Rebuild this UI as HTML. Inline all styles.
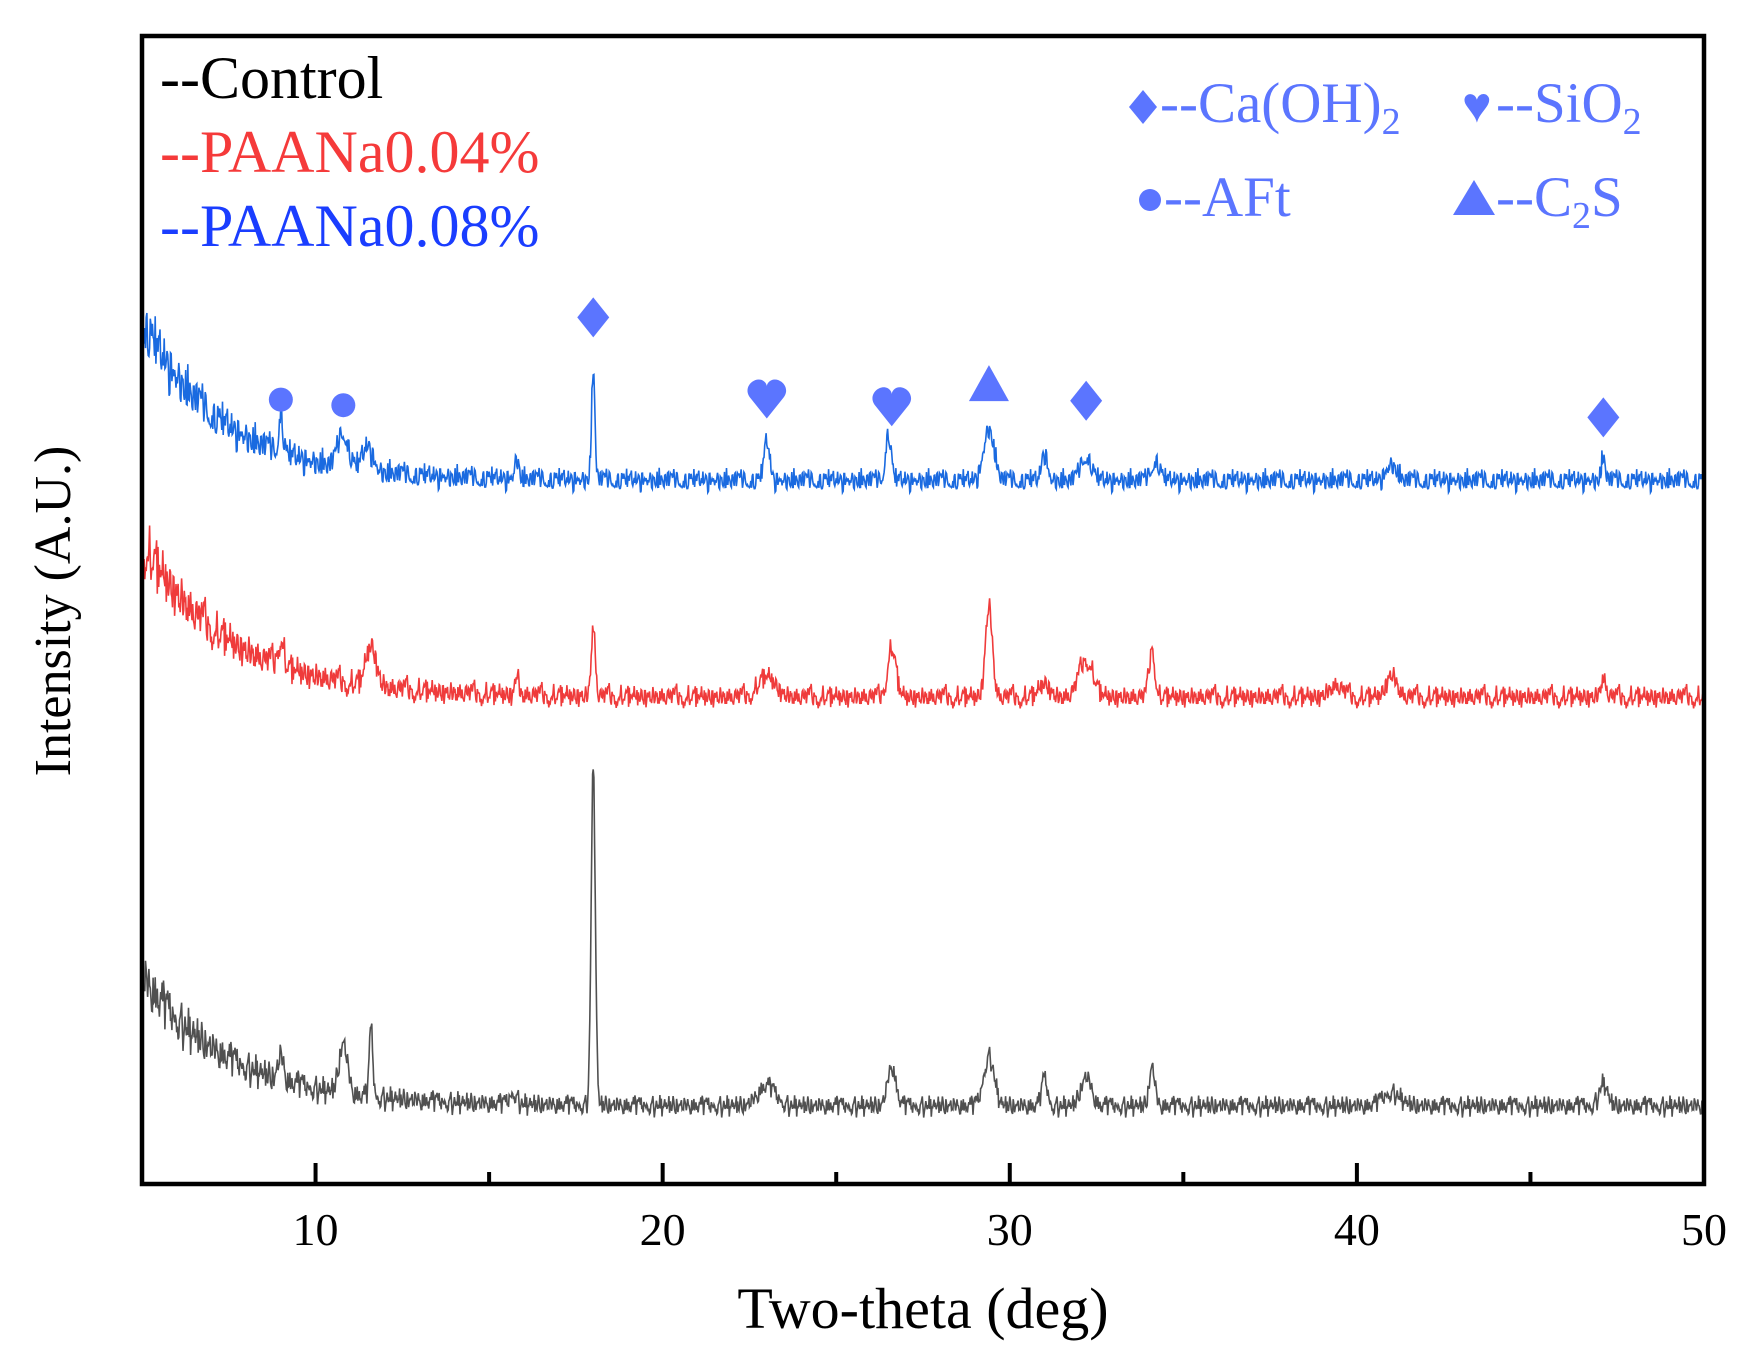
<!DOCTYPE html>
<html><head><meta charset="utf-8"><style>
html,body{margin:0;padding:0;background:#fff;}
svg{display:block;font-family:"Liberation Serif",serif;}
</style></head><body>
<svg id="chart" width="1739" height="1350" viewBox="0 0 1739 1350" xmlns="http://www.w3.org/2000/svg">
<g id="series"></g>
<g id="markers"></g>
<rect x="142" y="36" width="1562" height="1148" fill="none" stroke="#000" stroke-width="4.5"/>
<g id="ticks"></g>
<text x="923" y="1328" font-size="58" text-anchor="middle">Two-theta (deg)</text>
<text transform="translate(70,611) rotate(-90)" font-size="52" text-anchor="middle">Intensity (A.U.)</text>
<g font-size="60">
<text x="160" y="98" fill="#000">--Control</text>
<text x="160" y="172" fill="#f53a3a">--PAANa0.04%</text>
<text x="160" y="246" fill="#1a3dff">--PAANa0.08%</text>
</g>
<g font-size="57" fill="#5b75ff">
<path d="M1143,90 L1157,107 L1143,124 L1129,107 Z"/>
<text x="1160" y="122">--Ca(OH)<tspan font-size="38" dy="12">2</tspan></text>
<text x="1462" y="122" font-size="50">♥</text>
<text x="1496" y="122">--SiO<tspan font-size="38" dy="12">2</tspan></text>
<circle cx="1150" cy="200" r="11"/>
<text x="1164" y="216">--AFt</text>
<path d="M1474,180 L1495,215 L1453,215 Z"/>
<text x="1496" y="216">--C<tspan font-size="38" dy="12">2</tspan><tspan dy="-12">S</tspan></text>
</g>
</svg>
<script>
// axis domain
const xMin = 5, xMax = 50;
const xTicks = [10, 20, 30, 40, 50];
const xMinorTicks = [15, 25, 35, 45];
// baselines: [flat level, decay amplitude, decay constant]
const controlBase = [70, 116, 2.5];
const red004Base = [438, 138, 2.5];
const blue008Base = [633, 143, 2.3];
// peaks: [position (deg), height, width]
const controlPeaks = [[9.0,22,0.08],[10.8,45,0.12],[11.6,62,0.05],[15.7,10,0.1],[18.0,305,0.06],[23.0,18,0.25],[26.6,35,0.12],[29.4,45,0.15],[31.0,25,0.08],[32.2,26,0.15],[34.1,35,0.08],[41.0,12,0.25],[47.1,20,0.12]];
const red004Peaks = [[9.0,26,0.08],[11.6,36,0.15],[15.8,20,0.05],[18.0,62,0.06],[23.0,18,0.25],[26.6,44,0.12],[29.4,82,0.1],[31.0,12,0.15],[32.2,34,0.2],[34.1,44,0.08],[39.4,10,0.2],[41.0,20,0.15],[47.1,16,0.08]];
const blue008Peaks = [[9.0,38,0.06],[10.8,32,0.15],[11.5,22,0.15],[15.8,18,0.06],[18.0,98,0.05],[23.0,35,0.08],[26.5,42,0.08],[29.4,46,0.15],[31.0,25,0.08],[32.2,22,0.15],[34.2,18,0.12],[41.0,14,0.15],[47.1,20,0.06]];
// measured noise texture (intensity units, normalized)
const noiseTexture = [0.3,-0.8,0.9,-0.2,0.6,-1,0.1,0.7,-0.5,0.4,-0.9,0.8,-0.1,0.2,-0.6,1,-0.4,0.5,-0.7,0.0,0.9,-0.3,-0.8,0.6,0.2,-1,0.4,0.7,-0.2,-0.6,0.8,0.1,-0.9,0.5,-0.4,0.3,0.9,-0.7,0.0,-0.3,0.6,-0.8,1,-0.1,0.4,-0.5,0.2,0.8,-1,0.5,-0.2,0.7,-0.6,0.1,-0.4,0.9,-0.9,0.3,0.6,-0.7,0.2,-0.1,0.8,-0.5,-0.3,1,-0.8,0.4,0.0,-0.6,0.7,-0.2,0.5,-1,0.3,0.9,-0.4,0.1,-0.7,0.6,-0.3,0.8,-0.9,0.2,0.4,-0.5,1,-0.1,-0.8,0.7,0.0,-0.6,0.5,0.3,-0.2,0.9,-0.4];
// phase marker positions: [type, two-theta, intensity]
const markerData = [["circle",9.0,706],["circle",10.8,701],["diamond",18.0,780],["heart",23.0,707],["heart",26.6,700],["triangle",29.4,720],["diamond",32.2,705],["diamond",47.1,690]];

const NS = "http://www.w3.org/2000/svg";
const xs = v => 142 + (v - xMin) / (xMax - xMin) * 1562;
const ys = v => 1184 - v * 1.111;

function intensity(x, base, peaks, idx, off) {
  let v = base[0] + base[1] * Math.exp(-(x - xMin) / base[2]);
  for (const p of peaks) v += p[1] * Math.exp(-0.5 * Math.pow((x - p[0]) / p[2], 2));
  const amp = 10 + 18 * Math.exp(-(x - xMin) / 3);
  const n1 = noiseTexture[(idx * 7 + off) % noiseTexture.length];
  const n2 = noiseTexture[(idx * 13 + off * 3) % noiseTexture.length];
  v += amp * (0.7 * n1 + 0.5 * n2 * Math.abs(n2));
  return v;
}
const seriesG = document.getElementById('series');
function drawSeries(base, peaks, color, name, off) {
  let d = "";
  let i = 0;
  for (let x = xMin; x <= xMax + 1e-9; x += 0.02, i++) {
    d += (i ? "L" : "M") + xs(x).toFixed(1) + "," + ys(intensity(x, base, peaks, i, off)).toFixed(1);
  }
  const p = document.createElementNS(NS, 'path');
  p.setAttribute('d', d);
  p.setAttribute('fill', 'none');
  p.setAttribute('stroke', color);
  p.setAttribute('stroke-width', '1.6');
  
  
  seriesG.appendChild(p);
}
drawSeries(controlBase, controlPeaks, '#505050', 'control-line', 0);
drawSeries(red004Base, red004Peaks, '#ef3b3b', 'paana-004-line', 31);
drawSeries(blue008Base, blue008Peaks, '#1a6ae0', 'paana-008-line', 59);

const tg = document.getElementById('ticks');
for (const t of xTicks) {
  const l = document.createElementNS(NS, 'line');
  l.setAttribute('x1', xs(t)); l.setAttribute('x2', xs(t));
  l.setAttribute('y1', 1184); l.setAttribute('y2', 1163);
  l.setAttribute('stroke', '#000'); l.setAttribute('stroke-width', '4');
  
  
  tg.appendChild(l);
  const tx = document.createElementNS(NS, 'text');
  tx.setAttribute('x', xs(t)); tx.setAttribute('y', 1245);
  tx.setAttribute('font-size', '46'); tx.setAttribute('text-anchor', 'middle');
  tx.textContent = t;
  
  
  tg.appendChild(tx);
}
for (const t of xMinorTicks) {
  const l = document.createElementNS(NS, 'line');
  l.setAttribute('x1', xs(t)); l.setAttribute('x2', xs(t));
  l.setAttribute('y1', 1184); l.setAttribute('y2', 1172);
  l.setAttribute('stroke', '#000'); l.setAttribute('stroke-width', '4');
  
  
  tg.appendChild(l);
}
const mg = document.getElementById('markers');
for (const m of markerData) {
  const cx = xs(m[1]), cy = ys(m[2]);
  let el;
  if (m[0] === 'circle') {
    el = document.createElementNS(NS, 'circle');
    el.setAttribute('cx', cx); el.setAttribute('cy', cy); el.setAttribute('r', 12);
  } else if (m[0] === 'diamond') {
    el = document.createElementNS(NS, 'path');
    el.setAttribute('d', `M${cx},${cy-20}L${cx+16},${cy}L${cx},${cy+20}L${cx-16},${cy}Z`);
  } else if (m[0] === 'triangle') {
    el = document.createElementNS(NS, 'path');
    el.setAttribute('d', `M${cx},${cy-19}L${cx+20},${cy+17}L${cx-20},${cy+17}Z`);
  } else {
    el = document.createElementNS(NS, 'path');
    el.setAttribute('d', `M${cx},${cy+20}L${cx-16},${cy}C${cx-24},${cy-9} ${cx-16},${cy-19} ${cx-8},${cy-19}C${cx-3},${cy-19} ${cx},${cy-15} ${cx},${cy-12}C${cx},${cy-15} ${cx+3},${cy-19} ${cx+8},${cy-19}C${cx+16},${cy-19} ${cx+24},${cy-9} ${cx+16},${cy}Z`);
  }
  el.setAttribute('fill', '#5b75ff');
  
  
  mg.appendChild(el);
}
</script>
</body></html>
